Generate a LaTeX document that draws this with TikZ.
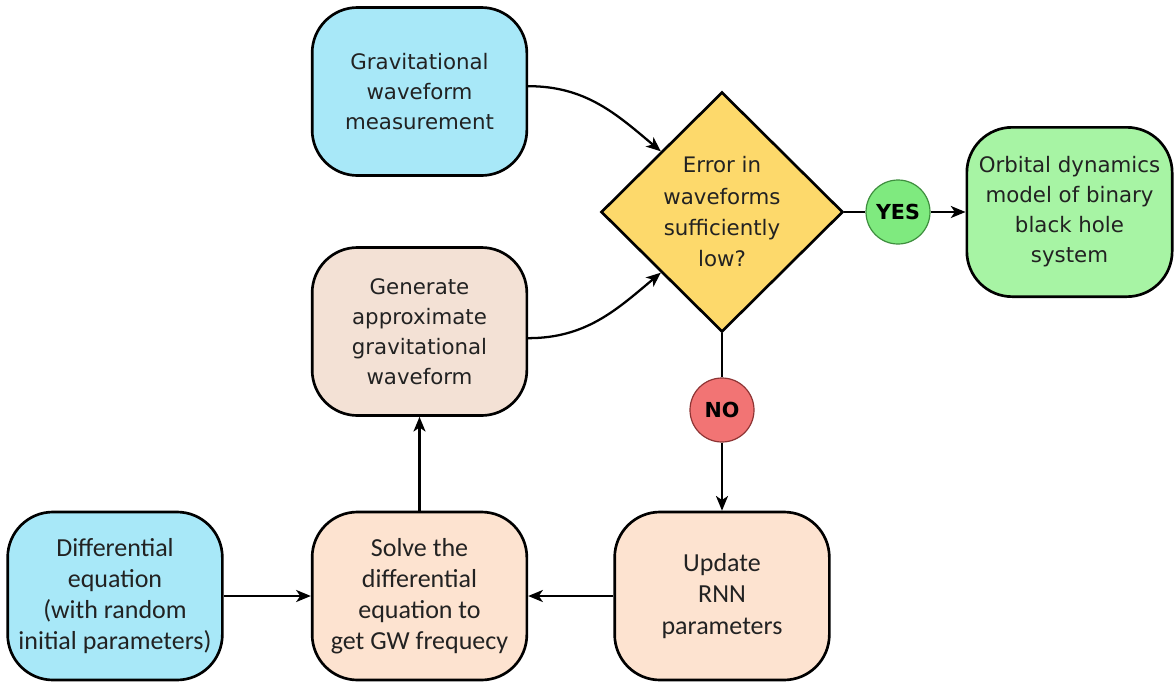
\documentclass[tikz,border=0pt]{standalone}
\usepackage{fontspec}
\setmainfont{DejaVu Sans}
\newfontfamily\calib{Carlito}
\usetikzlibrary{shapes.geometric,arrows.meta}

\definecolor{measblue}{HTML}{A8E8F8}
\definecolor{gentan}{HTML}{F3E1D5}
\definecolor{peach}{HTML}{FDE3D0}
\definecolor{decyellow}{HTML}{FDD96B}
\definecolor{resgreen}{HTML}{A7F4A4}
\definecolor{yesgreen}{HTML}{7FEA7F}
\definecolor{yesedge}{HTML}{3E8E3E}
\definecolor{nored}{HTML}{F27474}
\definecolor{noedge}{HTML}{8E3434}
\definecolor{inkgrey}{HTML}{222222}

\tikzset{
  box/.style={draw=black, line width=2pt, rounded corners=34pt, align=center,
    minimum width=161pt, minimum height=126pt, inner sep=2pt, text=inkgrey},
  verd/.style={font=\fontsize{16}{22.5}\selectfont},
  cal/.style={font=\calib\fontsize{19.5}{23.4}\selectfont},
  decision/.style={diamond, draw=black, line width=2pt, fill=decyellow,
    align=center, inner sep=0pt, minimum width=181.5pt, minimum height=180pt,
    text=inkgrey, font=\fontsize{16}{23.5}\selectfont},
  answer/.style={circle, line width=0.9pt, minimum size=48pt, inner sep=0pt,
    font=\bfseries\fontsize{15.5}{18}\selectfont},
  flow/.style={line width=1.7pt, -{Stealth[length=11pt, width=9pt, inset=3pt]}},
  link/.style={line width=1.7pt}
}

\begin{document}
\begin{tikzpicture}[x=0.75pt, y=-0.75pt]
  \useasboundingbox (0,0) rectangle (1174,682);

  % sources and steps
  \node[box, verd, fill=measblue] (meas) at (419.5,91.5)
    {Gravitational\\waveform\\measurement};
  \node[box, verd, fill=gentan] (gen) at (419.5,331.5)
    {Generate\\approximate\\gravitational\\waveform};
  \node[box, cal, fill=measblue] (diffeq) at (115,596)
    {Differential\\equation\\(with random\\initial parameters)};
  \node[box, cal, fill=peach] (solve) at (419.5,596)
    {Solve the\\differential\\equation to\\get GW frequecy};
  \node[box, cal, fill=peach] (upd) at (722,596)
    {Update\\RNN\\parameters};
  \node[box, verd, fill=resgreen, minimum width=154pt, minimum height=127pt] (orb) at (1069.5,212)
    {Orbital dynamics\\model of binary\\black hole\\system};

  % decision and its answers
  \node[decision] (dec) at (722,212)
    {Error in\\waveforms\\sufficiently\\low?};
  \node[answer, fill=yesgreen, draw=yesedge] (yes) at (898,212) {YES};
  \node[answer, fill=nored, draw=noedge] (no) at (722,410) {NO};

  % connectors
  \draw[flow] ([yshift=4pt]meas.east) to[out=0, in=140] (dec.north west);
  \draw[flow] ([yshift=-5pt]gen.east) to[out=0, in=-140] (dec.south west);
  \draw[link] (dec.east) -- (yes.west);
  \draw[flow] (yes.east) -- (orb.west);
  \draw[link] (dec.south) -- (no.north);
  \draw[flow] (no.south) -- (upd.north);
  \draw[flow] (upd.west) -- (solve.east);
  \draw[flow] (diffeq.east) -- (solve.west);
  \draw[flow] (solve.north) -- (gen.south);
\end{tikzpicture}
\end{document}
